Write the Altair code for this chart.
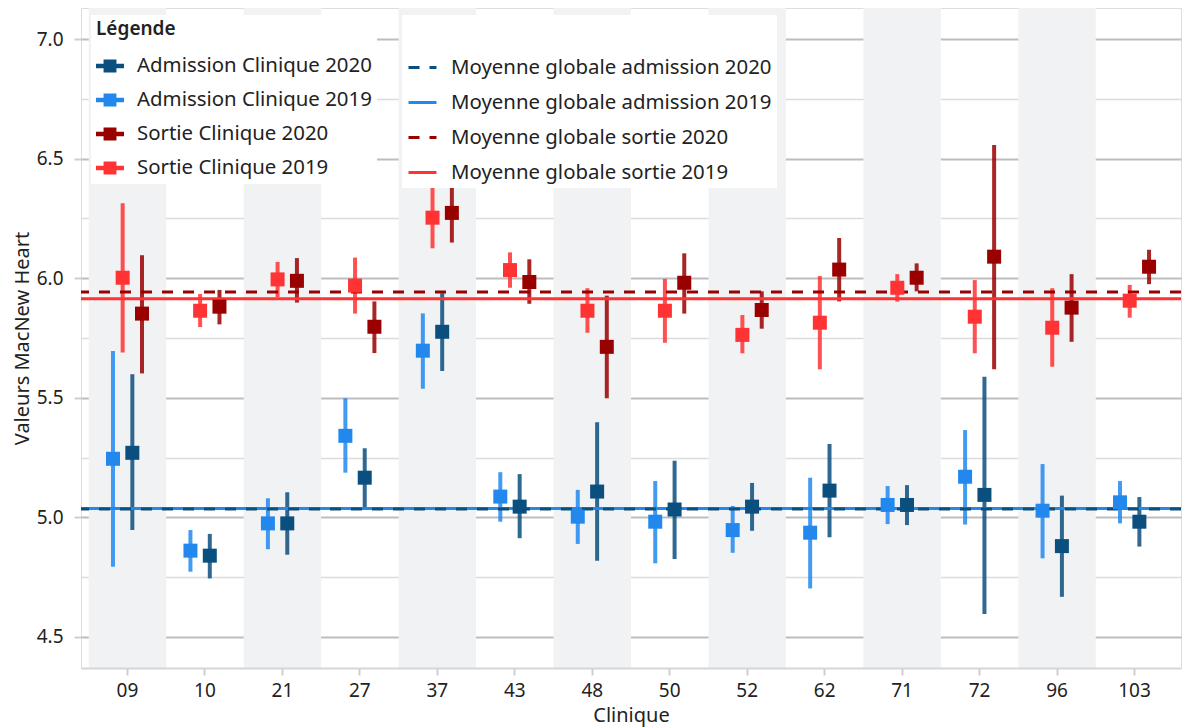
import altair as alt
import pandas as pd

# Cliniques (axe x)
clinics = ["09", "10", "21", "27", "37", "43", "48", "50", "52", "62", "71", "72", "96", "103"]

# Moyennes MacNew Heart et intervalles par clinique
adm2020_mean = [5.270, 4.840, 4.975, 5.166, 5.776, 5.045, 5.108, 5.033, 5.045, 5.112, 5.052, 5.094, 4.880, 4.982]
adm2020_low = [4.947, 4.745, 4.844, 5.041, 5.612, 4.913, 4.819, 4.826, 4.944, 4.917, 4.968, 4.596, 4.668, 4.878]
adm2020_high = [5.598, 4.931, 5.105, 5.289, 5.937, 5.181, 5.398, 5.237, 5.144, 5.307, 5.135, 5.588, 5.091, 5.085]

adm2019_mean = [5.245, 4.861, 4.975, 5.341, 5.697, 5.087, 5.003, 4.982, 4.947, 4.936, 5.052, 5.170, 5.028, 5.063]
adm2019_low = [4.794, 4.773, 4.867, 5.187, 5.538, 4.982, 4.889, 4.808, 4.852, 4.703, 4.972, 4.970, 4.829, 4.975]
adm2019_high = [5.696, 4.947, 5.080, 5.498, 5.853, 5.189, 5.115, 5.152, 5.048, 5.166, 5.131, 5.365, 5.223, 5.152]

sortie2020_mean = [5.852, 5.881, 5.989, 5.797, 6.273, 5.984, 5.713, 5.981, 5.867, 6.036, 6.002, 6.090, 5.877, 6.048]
sortie2020_low = [5.602, 5.807, 5.898, 5.687, 6.149, 5.893, 5.498, 5.852, 5.789, 5.903, 5.945, 5.619, 5.734, 5.975]
sortie2020_high = [6.096, 5.951, 6.084, 5.903, 6.420, 6.079, 5.927, 6.104, 5.945, 6.168, 6.062, 6.557, 6.017, 6.119]

sortie2019_mean = [6.002, 5.864, 5.995, 5.969, 6.253, 6.034, 5.864, 5.864, 5.763, 5.814, 5.960, 5.839, 5.793, 5.906]
sortie2019_low = [5.689, 5.796, 5.920, 5.852, 6.125, 5.960, 5.772, 5.730, 5.686, 5.619, 5.902, 5.686, 5.630, 5.835]
sortie2019_high = [6.313, 5.934, 6.068, 6.086, 6.400, 6.108, 5.958, 5.997, 5.846, 6.009, 6.017, 5.992, 5.958, 5.972]

series_names = ["Admission Clinique 2020", "Admission Clinique 2019",
                "Sortie Clinique 2020", "Sortie Clinique 2019"]
series_colors = ["#0b4f7e", "#2288ee", "#990000", "#ff3333"]
offset_order = ["Admission Clinique 2019", "Sortie Clinique 2019",
                "Admission Clinique 2020", "Sortie Clinique 2020"]

# Moyennes globales (ordre de la légende)
mean_labels = ["Moyenne globale admission 2020", "Moyenne globale admission 2019",
               "Moyenne globale sortie 2020", "Moyenne globale sortie 2019"]
mean_values = [5.035, 5.037, 5.942, 5.914]
mean_colors = ["#0b4f7e", "#2288ee", "#990000", "#ff3333"]
mean_dashes = [[11, 10], [1, 0], [11, 10], [1, 0]]
# Ordre de tracé : lignes pleines d'abord, pointillés par-dessus
draw_order = [1, 3, 0, 2]

FONT = "Noto Sans"
LEG_FS = 20.4

rows = []
for name, means, lows, highs in [
    ("Admission Clinique 2020", adm2020_mean, adm2020_low, adm2020_high),
    ("Admission Clinique 2019", adm2019_mean, adm2019_low, adm2019_high),
    ("Sortie Clinique 2020", sortie2020_mean, sortie2020_low, sortie2020_high),
    ("Sortie Clinique 2019", sortie2019_mean, sortie2019_low, sortie2019_high),
]:
    for c, m, lo, hi in zip(clinics, means, lows, highs):
        rows.append({"clinique": c, "serie": name, "moyenne": m, "bas": lo, "haut": hi})
df = pd.DataFrame(rows)

bands = pd.DataFrame({"clinique": clinics[::2]})
means_df = pd.DataFrame({"libelle": [mean_labels[i] for i in draw_order],
                         "valeur": [mean_values[i] for i in draw_order]})

x_scale = alt.Scale(domain=clinics, paddingInner=0, paddingOuter=0.1)
x_axis = alt.Axis(title="Clinique", labelFontSize=19, titleFontSize=20, labelFont=FONT,
                  titleFont=FONT, titleFontWeight="normal", labelColor="#222", titleColor="#222",
                  labelAngle=0, tickColor="#cfcfcf", tickSize=7, tickWidth=2, labelPadding=6,
                  titlePadding=5, domainColor="#d6d6d6", domainWidth=2, grid=False)
y_scale = alt.Scale(domain=[4.3704, 7.1296], nice=False, zero=False)
y_axis = alt.Axis(
    title="Valeurs MacNew Heart",
    values=[4.5, 4.75, 5.0, 5.25, 5.5, 5.75, 6.0, 6.25, 6.5, 6.75, 7.0],
    labelExpr="datum.value % 0.5 === 0 ? format(datum.value, '.1f') : ''",
    labelFontSize=19, titleFontSize=20, labelFont=FONT, titleFont=FONT,
    titleFontWeight="normal", labelColor="#222", titleColor="#222",
    tickSize=7, tickWidth=2, labelPadding=11, titlePadding=4, domain=False,
    tickColor={"condition": {"test": "datum.value % 0.5 === 0", "value": "#cfcfcf"},
               "value": "transparent"},
    gridColor={"condition": {"test": "datum.value % 0.5 === 0", "value": "#bdbdbd"},
               "value": "#dcdcdc"},
    gridWidth={"condition": {"test": "datum.value % 0.5 === 0", "value": 2.2},
               "value": 1.6},
)

x_enc = alt.X("clinique:N", scale=x_scale, axis=x_axis)
# Décalage des quatre séries à l'intérieur de chaque bande de clinique
xoff_enc = alt.XOffset("serie:N", scale=alt.Scale(domain=offset_order, range=[19.4, 58.1],
                                                  paddingInner=0, paddingOuter=0))

# Symbole de légende : barre horizontale avec carré central
cross_path = "M-1,-0.16H-0.46V-0.46H0.46V-0.16H1V0.16H0.46V0.46H-0.46V0.16H-1Z"

legend_common = dict(orient="none", fillColor="white", padding=5, labelFont=FONT,
                     labelFontSize=LEG_FS, labelColor="#222", titleFont=FONT, titleFontSize=19,
                     titleColor="#222", titleFontWeight=600, rowPadding=9,
                     labelOffset=13, symbolSize=784, labelLimit=400, titlePadding=13)

series_legend = alt.Legend(title="Légende", legendX=10, legendY=7, symbolType=cross_path,
                           symbolStrokeWidth=0, symbolOpacity=1, **legend_common)
mean_legend = alt.Legend(title=" ", legendX=321, legendY=7, symbolType="stroke",
                         symbolStrokeWidth=3, **legend_common)

color_enc = alt.Color("serie:N", scale=alt.Scale(domain=series_names, range=series_colors),
                      legend=series_legend)

shade = alt.Chart(bands).mark_rect(color="#f1f2f4").encode(x=x_enc)

bars = alt.Chart(df).mark_rule(strokeWidth=4, opacity=0.85).encode(
    x=x_enc, xOffset=xoff_enc,
    y=alt.Y("bas:Q", scale=y_scale, axis=y_axis), y2="haut:Q",
    color=color_enc,
)

mean_lines = alt.Chart(means_df).mark_rule(strokeWidth=3).encode(
    y=alt.Y("valeur:Q", scale=y_scale, axis=y_axis),
    stroke=alt.Stroke("libelle:N", scale=alt.Scale(domain=mean_labels, range=mean_colors),
                      legend=mean_legend),
    strokeDash=alt.StrokeDash("libelle:N", scale=alt.Scale(domain=mean_labels, range=mean_dashes),
                              legend=mean_legend),
)

squares = alt.Chart(df).mark_square(size=196, opacity=1).encode(
    x=x_enc, xOffset=xoff_enc,
    y=alt.Y("moyenne:Q", scale=y_scale, axis=y_axis),
    color=color_enc,
)

chart = alt.layer(shade, bars, mean_lines, squares).properties(
    width=1100, height=660,
    autosize=alt.AutoSizeParams(type="none"),
    padding={"left": 81, "top": 8, "right": 3, "bottom": 59},
).configure_view(stroke="#dcdcdc", strokeWidth=2).configure(background="white")

chart.save("out.html", embed_options={"renderer": "svg", "actions": False})
